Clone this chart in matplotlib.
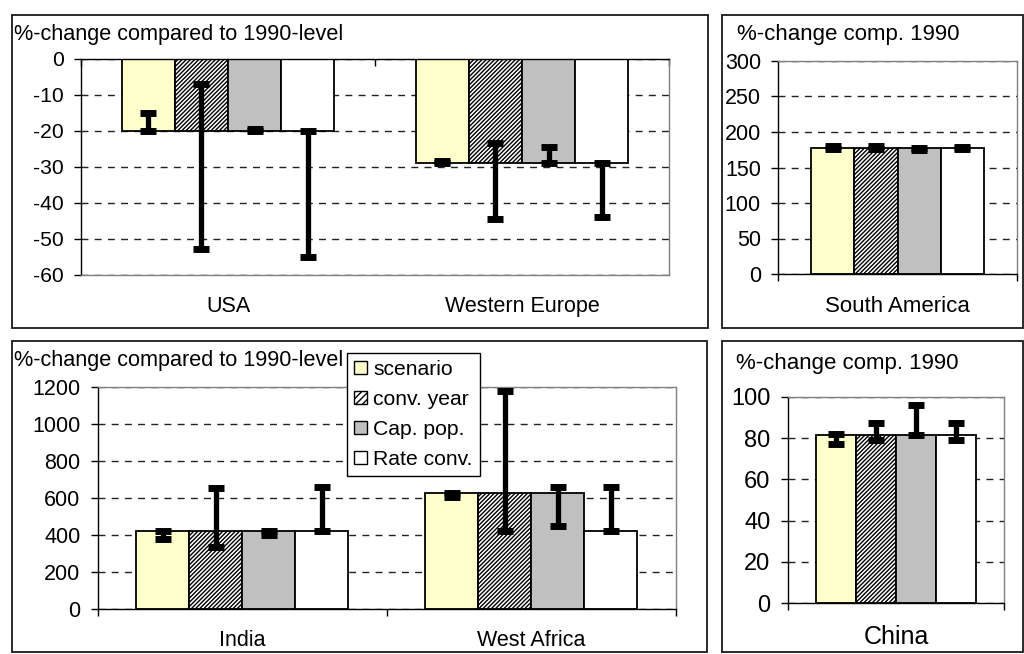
import numpy as np
import matplotlib
matplotlib.use("Agg")
import matplotlib.pyplot as plt
from matplotlib.patches import Rectangle, Patch

plt.rcParams['font.family'] = ['Liberation Sans', 'DejaVu Sans']
plt.rcParams['axes.unicode_minus'] = False
plt.rcParams['hatch.linewidth'] = 1.0

# ---------------- data ----------------
series = ["scenario", "conv. year", "Cap. pop.", "Rate conv."]
fills = ["#FFFFCC", "#FFFFFF", "#C0C0C0", "#FFFFFF"]
hatches = [None, "////////", None, None]

# Panel A: USA / Western Europe
catA = ["USA", "Western Europe"]
valA = [[-20, -29], [-20, -29], [-20, -29], [-20, -29]]
lowA = [[-20, -29], [-53, -44.5], [-20, -29], [-55, -44]]
highA = [[-15, -28.4], [-7, -23.3], [-19.4, -24.5], [-20, -29]]

# Panel B: South America
catB = ["South America"]
valB = [[177], [177], [177], [177]]
lowB = [[176], [176], [174], [176]]
highB = [[180], [180], [178], [178.5]]

# Panel C: India / West Africa
catC = ["India", "West Africa"]
valC = [[420, 625], [420, 625], [420, 625], [420, 420]]
lowC = [[375, 605], [335, 420], [400, 445], [420, 420]]
highC = [[420, 625], [650, 1175], [420, 660], [660, 660]]

# Panel D: China
catD = ["China"]
valD = [[81.5], [81.5], [81.5], [81.5]]
lowD = [[77], [79], [81.5], [79]]
highD = [[82], [87.5], [96], [87.5]]

W, H = 1024, 654
fig = plt.figure(figsize=(W / 100, H / 100), dpi=100)


def add_ax(l, t, r, b):
    return fig.add_axes([l / W, 1 - b / H, (r - l) / W, (b - t) / H])


def frame(l, t, r, b):
    fig.patches.append(Rectangle((l / W, 1 - b / H), (r - l) / W, (b - t) / H,
                                 transform=fig.transFigure, fill=False,
                                 edgecolor="#1a1a1a", linewidth=1.3, zorder=0))


def panel(ax, cats, vals, lows, highs, ylim, ystep, width, tick_fs, cat_fs,
          axis_top=False):
    n = len(cats)
    x = np.arange(n)
    for i in range(4):
        v = np.array(vals[i], dtype=float)
        lo = np.array(lows[i], dtype=float)
        hi = np.array(highs[i], dtype=float)
        xi = x + (i - 1.5) * width
        ax.bar(xi, v, width=width, color=fills[i], edgecolor="black",
               linewidth=1.3, hatch=hatches[i], zorder=2)
        eb = ax.errorbar(xi, v, yerr=[v - lo, hi - v], fmt="none", ecolor="black",
                         elinewidth=3.8, capsize=6, capthick=5, zorder=3)
        for c in eb[1]:
            c.set_solid_capstyle("round")
    ax.set_xlim(-0.5, n - 0.5)
    ax.set_ylim(*ylim)
    ax.set_yticks(np.arange(ylim[0], ylim[1] + ystep / 2, ystep))
    ax.set_axisbelow(True)
    ax.yaxis.grid(True, color="#222222", linewidth=1.0, linestyle=(0, (5, 4.5)))
    ax.tick_params(axis="y", direction="out", length=4.8, width=1,
                   labelsize=tick_fs, pad=7.5, color="black")
    # category ticks at boundaries, labels at centers
    ax.set_xticks(np.arange(-0.5, n, 1.0))
    ax.set_xticks(x, minor=True)
    ax.set_xticklabels(cats, minor=True, fontsize=cat_fs)
    ax.tick_params(axis="x", which="major", labelbottom=False, length=5, width=1)
    ax.tick_params(axis="x", which="minor", length=0, pad=15.5, labelbottom=True)
    if axis_top:
        ax.tick_params(axis="x", which="major", bottom=False, top=True, direction="in")
        ax.spines["top"].set_color("black")
        ax.spines["bottom"].set_color("#808080")
    else:
        ax.tick_params(axis="x", which="major", bottom=True, top=False, direction="out")
        ax.spines["top"].set_color("#808080")
        ax.spines["bottom"].set_color("black")
    ax.spines["right"].set_color("#808080")
    ax.spines["left"].set_color("black")
    for s in ax.spines.values():
        s.set_linewidth(1.0)
        s.set_zorder(2.5)


# frames
frame(12, 15, 708, 328)
frame(722, 15, 1023, 328)
frame(12, 341, 707, 652)
frame(722, 341, 1023, 652)

axA = add_ax(81, 59, 669, 274.5)
panel(axA, catA, valA, lowA, highA, (-60, 0), 10, 0.181, 15.2, 15.5, axis_top=True)

axB = add_ax(778, 61, 1017, 274)
panel(axB, catB, valB, lowB, highB, (0, 300), 50, 0.181, 15.5, 16)

axC = add_ax(97.7, 386.7, 675.7, 608.7)
panel(axC, catC, valC, lowC, highC, (0, 1200), 200, 0.183, 15.5, 15.5)

axD = add_ax(787.7, 396.7, 1004.3, 603.3)
panel(axD, catD, valD, lowD, highD, (0, 100), 20, 0.185, 17, 18)

# titles
fig.text(14 / W, 1 - 40 / H, "%-change compared to 1990-level", fontsize=15.6,
         ha="left", va="baseline")
fig.text(737 / W, 1 - 40 / H, "%-change comp. 1990", fontsize=16,
         ha="left", va="baseline")
fig.text(14 / W, 1 - 366 / H, "%-change compared to 1990-level", fontsize=15.6,
         ha="left", va="baseline")
fig.text(736 / W, 1 - 369 / H, "%-change comp. 1990", fontsize=16,
         ha="left", va="baseline")

# legend
handles = [Patch(facecolor=fills[i], edgecolor="black",
                 hatch=("/////" if hatches[i] else None), linewidth=1.0)
           for i in range(4)]
leg = fig.legend(handles, series, loc="upper left",
                 bbox_to_anchor=(347.3 / W, 1 - 353.3 / H),
                 fontsize=15.2, frameon=True, fancybox=False, shadow=False,
                 edgecolor="black", framealpha=1, borderpad=0.32,
                 handlelength=0.62, handleheight=0.62, handletextpad=0.3,
                 labelspacing=0.52, borderaxespad=0)
leg.get_frame().set_linewidth(1.0)

fig.savefig("out.png", dpi=100)
